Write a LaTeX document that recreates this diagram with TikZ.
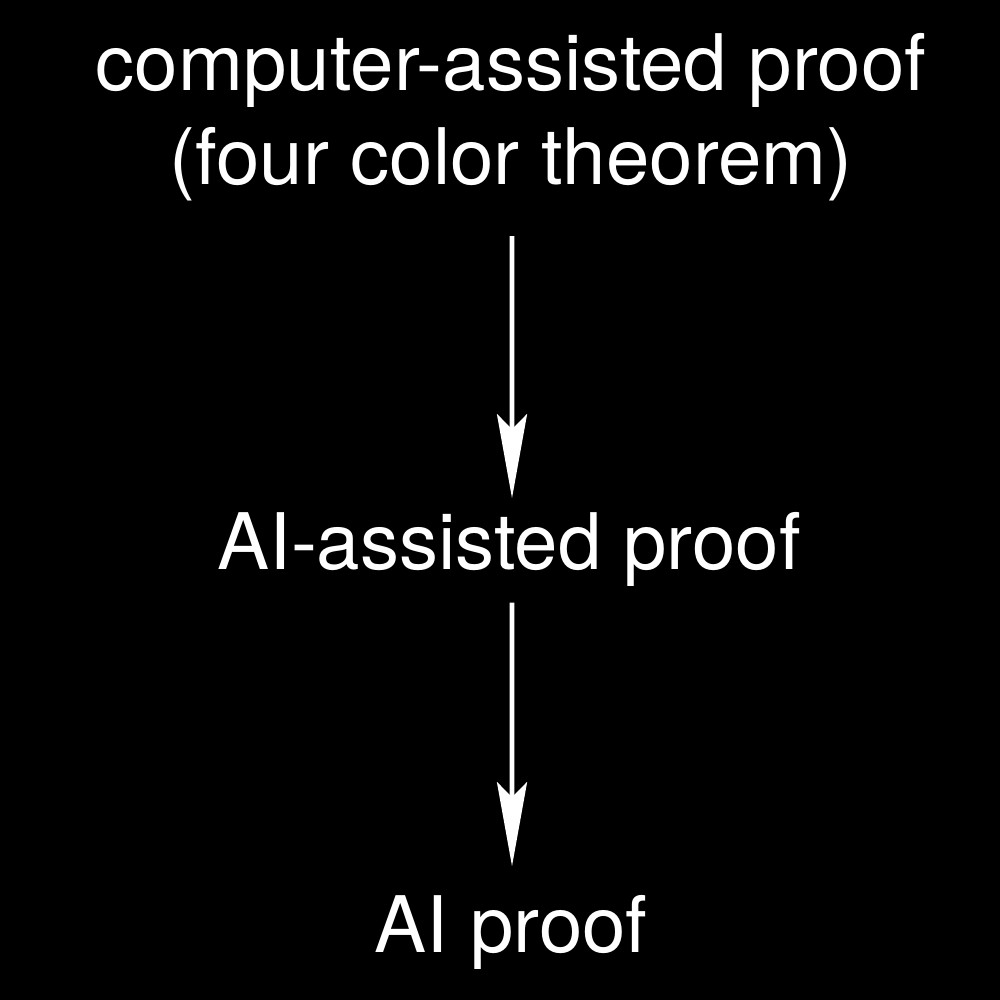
\documentclass[tikz,border=0pt]{standalone}
\usepackage{fontspec}
\setmainfont{TeX Gyre Heros}
\usetikzlibrary{arrows.meta}
\tikzset{
  lbl/.style={text=white,inner sep=0pt,font=\fontsize{22.2}{27}\selectfont,align=center},
  step arrow/.style={draw=white,line width=1.3pt,-{Stealth[length=8.4mm,width=3mm,inset=1.5mm]}}
}
\begin{document}
\begin{tikzpicture}[anchor=base]
\fill[black] (0,0) rectangle (10,10);
\useasboundingbox (0,0) rectangle (10,10);
\node[lbl] at (5.11,8.15) (cap) {computer-assisted proof\\(four color theorem)};
\node[lbl] at (5.09,4.30) (aiassist) {AI-assisted proof};
\node[lbl] at (5.11,0.48) (ai) {AI proof};
\draw[step arrow] ([xshift=0.01cm,yshift=-3.4mm]cap.south) -- ([xshift=0.03cm,yshift=1.4mm]aiassist.north);
\draw[step arrow] ([xshift=0.03cm,yshift=-1.5mm]aiassist.south) -- ([xshift=0.01cm,yshift=2.8mm]ai.north);
\end{tikzpicture}
\end{document}
